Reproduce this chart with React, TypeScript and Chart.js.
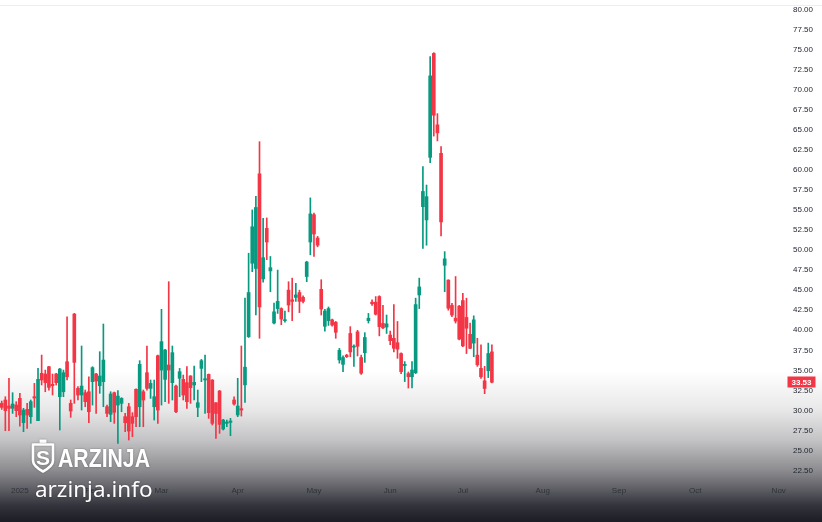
import React, { useEffect, useRef } from 'react';
import { Chart, registerables } from 'chart.js';

Chart.register(...registerables);

const opens = [
  30.89, 31.31, 30.56, 30.27, 30.68, 31.51, 28.48, 30.14, 29.23, 31.72, 28.73, 34.63, 34.55, 35.46, 33.26, 34.55, 31.72, 32.34, 36.08, 30.89,
  42.02, 32.76, 31.93, 32.22, 32.34, 33.59, 34.55, 33.09, 33.59, 30.47, 29.52, 32.22, 30.68, 30.89, 29.23, 30.47, 29.23, 32.64, 30.47, 32.34,
  34.71, 32.76, 30.47, 36.83, 35.04, 33.88, 35.67, 33.47, 33.05, 34.01, 33.88, 33.47, 34.3, 33.18, 30.39, 35.25, 33.8, 34.5, 33.8, 30.97,
  32.43, 27.69, 28.4, 28.52, 31.31, 29.44, 30.23,
  33.2, 39.2, 48.35, 47.7, 59.5, 46.4, 52.7, 47.4, 40.9, 42.7, 42.7, 41.2, 45.0, 43.8, 44.1, 44.7, 44.1, 46.7, 51.0, 54.4, 51.5, 45.1, 40.5,
  41.2, 41.3, 41.0, 36.3, 35.75, 36.9, 39.6, 37.9, 39.8, 36.6, 37.2, 41.2, 43.5, 43.5, 44.2, 40.85, 40.4, 39.4, 39.0, 38.45, 37.1, 35.6, 34.6, 34.2,
  34.7, 44.4, 55.4, 53.75, 61.55, 74.5, 65.6, 62.05, 48.1, 46.25, 43.1, 41.5, 43.0, 43.7, 41.6, 39.5, 38.4, 36.9, 35.25, 33.7, 34.95, 37.3,
];

const highs = [
  31.18, 31.72, 34.01, 32.22, 31.1, 32.14, 30.27, 30.89, 31.31, 33.38, 35.25, 36.91, 35.04, 35.5, 34.55, 34.63, 35.25, 35.04, 41.69, 31.31,
  42.11, 32.97, 38.04, 32.55, 34.21, 35.46, 34.63, 37.33, 40.78, 30.68, 32.34, 32.3, 32.47, 31.6, 29.64, 30.89, 29.73, 32.7, 36.21, 32.55,
  38.04, 33.8, 33.8, 36.91, 42.61, 37.62, 46.06, 38.04, 33.18, 35.25, 34.42, 35.46, 34.35, 35.54, 32.55, 36.37, 36.91, 34.55, 33.85, 31.0,
  32.5, 28.9, 28.81, 29.02, 31.72, 34.01, 38.04,
  44.0, 49.6, 55.0, 56.7, 63.5, 53.95, 54.0, 49.2, 43.4, 47.5, 42.8, 42.4, 46.05, 46.5, 45.85, 45.0, 44.3, 48.6, 56.5, 54.6, 51.7, 46.3, 42.6,
  42.9, 41.4, 41.1, 37.75, 36.8, 37.0, 40.45, 38.2, 40.0, 36.9, 39.7, 42.1, 43.8, 44.2, 44.3, 43.1, 41.9, 39.9, 43.2, 41.1, 37.2, 36.1, 34.8, 36.1,
  44.0, 46.5, 60.4, 58.1, 74.1, 74.6, 67.0, 62.9, 49.8, 46.3, 43.35, 46.7, 43.1, 44.6, 44.0, 40.9, 41.8, 39.0, 38.2, 35.5, 38.4, 38.2,
];

const lows = [
  30.14, 27.48, 27.48, 29.64, 29.23, 28.06, 27.36, 27.77, 28.4, 30.39, 28.73, 33.18, 32.34, 32.55, 31.93, 33.18, 27.57, 31.72, 33.8, 29.15,
  30.89, 31.31, 30.06, 30.47, 28.48, 30.68, 29.64, 32.14, 30.47, 29.23, 28.61, 28.4, 25.9, 29.85, 27.36, 26.32, 26.73, 27.98, 27.98, 27.98,
  32.55, 31.51, 28.81, 28.4, 30.68, 31.1, 30.89, 31.31, 29.73, 31.72, 31.31, 30.27, 30.89, 31.31, 29.23, 33.59, 29.64, 29.02, 28.19, 26.53,
  27.15, 27.57, 27.98, 26.86, 30.68, 29.23, 29.31,
  31.0, 39.1, 47.3, 41.9, 39.0, 46.0, 48.8, 44.8, 40.8, 42.1, 40.7, 41.0, 42.3, 41.2, 43.6, 42.2, 43.4, 46.05, 49.4, 49.2, 50.4, 41.9, 39.9,
  40.6, 40.5, 39.0, 35.9, 34.85, 36.6, 36.7, 35.5, 36.8, 34.5, 36.0, 40.9, 43.1, 41.9, 39.3, 40.2, 39.6, 38.2, 37.3, 36.5, 34.6, 33.6, 32.8, 32.8,
  34.6, 42.7, 50.2, 50.6, 60.9, 64.2, 63.6, 51.75, 44.8, 42.5, 41.7, 40.9, 38.8, 37.95, 37.1, 37.7, 36.7, 35.5, 34.0, 32.1, 34.1, 33.45,
];

const closes = [
  30.39, 29.98, 30.27, 30.81, 29.98, 29.44, 30.06, 29.44, 31.1, 31.55, 33.88, 33.8, 33.47, 32.88, 33.09, 33.47, 35.17, 34.71, 34.21, 29.94,
  36.0, 31.93, 33.05, 31.1, 29.85, 35.34, 33.67, 34.3, 36.29, 29.64, 32.05, 29.77, 31.8, 31.51, 28.48, 27.44, 28.4, 29.23, 35.75, 31.31,
  32.76, 33.38, 31.72, 30.06, 38.58, 37.54, 35.04, 37.21, 29.85, 34.84, 31.93, 31.1, 32.84, 33.51, 30.97, 36.21, 33.96, 29.73, 28.4, 29.64,
  28.27, 28.81, 28.56, 28.69, 30.81, 30.56, 30.06,
  35.4, 44.7, 52.9, 55.3, 42.9, 49.05, 51.0, 47.8, 42.3, 43.6, 41.4, 41.3, 43.15, 43.6, 44.4, 43.6, 43.6, 48.5, 54.5, 52.0, 50.6, 42.65, 42.4,
  42.7, 40.65, 39.75, 37.5, 36.6, 36.7, 37.3, 38.0, 38.0, 34.65, 39.1, 41.5, 43.3, 42.0, 40.45, 40.3, 40.8, 38.7, 37.75, 37.65, 34.85, 35.75, 34.2, 35.05,
  43.2, 45.4, 57.3, 56.65, 71.7, 66.8, 64.6, 53.5, 48.9, 42.75, 41.9, 41.15, 38.9, 38.05, 40.25, 37.75, 41.3, 35.7, 34.2, 32.75, 37.1, 33.53,
];

// time axis: label text and the bar index where it sits (trading-day bars, incl. future)
const monthLabels = ['2025', 'Feb', 'Mar', 'Apr', 'May', 'Jun', 'Jul', 'Aug', 'Sep', 'Oct', 'Nov'];
const monthBars = [5, 25, 44, 65, 86, 107, 127, 149, 170, 191, 214];

const priceTicks = [22.5, 25, 27.5, 30, 32.5, 35, 37.5, 40, 42.5, 45, 47.5, 50, 52.5, 55, 57.5, 60, 62.5, 65, 67.5, 70, 72.5, 75, 77.5, 80];
const lastPrice = 33.53;

const UP = '#089981';
const DOWN = '#f23645';
const FONT = '"Liberation Sans", Arial, sans-serif';

export default function App() {
  const ref = useRef<HTMLCanvasElement>(null);

  useEffect(() => {
    const canvas = ref.current;
    if (!canvas) return;
    const colors = closes.map((c, i) => (c >= opens[i] ? UP : DOWN));

    const bgPlugin = {
      id: 'bgGradient',
      beforeDraw(chart: any) {
        const { ctx, width, height } = chart;
        const g = ctx.createLinearGradient(0, 0, 0, height);
        g.addColorStop(0, '#ffffff');
        g.addColorStop(0.71, '#ffffff');
        g.addColorStop(0.785, '#e8e8e9');
        g.addColorStop(0.843, '#c3c3c5');
        g.addColorStop(0.9, '#8d8d91');
        g.addColorStop(0.94, '#5a5a61');
        g.addColorStop(0.968, '#34343c');
        g.addColorStop(1, '#1c1c24');
        ctx.save();
        ctx.fillStyle = g;
        ctx.fillRect(0, 0, width, height);
        ctx.strokeStyle = '#eeeeee';
        ctx.lineWidth = 1;
        ctx.beginPath();
        ctx.moveTo(0, 5.5);
        ctx.lineTo(width, 5.5);
        ctx.stroke();
        ctx.restore();
      },
    };

    const overlayPlugin = {
      id: 'overlay',
      afterDraw(chart: any) {
        const { ctx } = chart;
        const yScale = chart.scales.y;
        const area = chart.chartArea;
        // last price tag
        const py = yScale.getPixelForValue(lastPrice);
        ctx.save();
        ctx.fillStyle = DOWN;
        ctx.fillRect(area.right + 1.5, Math.round(py) - 5.5, 28, 11);
        ctx.fillStyle = '#ffffff';
        ctx.font = `bold 8px ${FONT}`;
        ctx.textAlign = 'center';
        ctx.textBaseline = 'middle';
        ctx.fillText(lastPrice.toFixed(2), area.right + 15.5, Math.round(py) + 0.5);
        ctx.restore();

        // watermark
        ctx.save();
        ctx.fillStyle = '#ffffff';
        ctx.strokeStyle = '#ffffff';
        ctx.shadowColor = 'rgba(0,0,0,0.35)';
        ctx.shadowBlur = 2;
        ctx.fillRect(39.5, 439.5, 7, 4);
        ctx.lineWidth = 2.6;
        ctx.lineJoin = 'round';
        ctx.beginPath();
        ctx.moveTo(33, 444.5);
        ctx.lineTo(53, 444.5);
        ctx.lineTo(53, 460.5);
        ctx.quadraticCurveTo(53, 466, 43, 471.5);
        ctx.quadraticCurveTo(33, 466, 33, 460.5);
        ctx.closePath();
        ctx.stroke();
        ctx.font = `bold 21px ${FONT}`;
        ctx.textAlign = 'center';
        ctx.textBaseline = 'alphabetic';
        ctx.fillText('S', 43, 465);

        ctx.textAlign = 'left';
        ctx.font = `bold 25px ${FONT}`;
        let w = ctx.measureText('ARZINJA').width;
        ctx.save();
        ctx.translate(58, 466.7);
        ctx.scale(92 / w, 1);
        ctx.fillText('ARZINJA', 0, 0);
        ctx.restore();

        ctx.font = '21px "Noto Sans", sans-serif';
        w = ctx.measureText('arzinja.info').width;
        ctx.save();
        ctx.translate(35, 496.7);
        ctx.scale(117.5 / w, 1);
        ctx.fillText('arzinja.info', 0, 0);
        ctx.restore();
        ctx.restore();
      },
    };

    const chart = new Chart(canvas, {
      type: 'bar',
      data: {
        datasets: [
          {
            label: 'body',
            data: opens.map((o, i) => ({ x: i, y: [Math.min(o, closes[i]), Math.max(o, closes[i])] })) as any,
            backgroundColor: colors,
            barThickness: 3,
            minBarLength: 1,
            grouped: false,
            borderWidth: 0,
          } as any,
          {
            label: 'wick',
            data: lows.map((l, i) => ({ x: i, y: [l, highs[i]] })) as any,
            backgroundColor: colors,
            barThickness: 1,
            grouped: false,
            borderWidth: 0,
          } as any,
        ],
      },
      options: {
        animation: false,
        responsive: false,
        maintainAspectRatio: false,
        layout: { padding: 0 },
        plugins: {
          legend: { display: false },
          tooltip: { enabled: false },
          title: { display: false },
        },
        scales: {
          x: {
            type: 'linear',
            offset: false,
            min: -0.47,
            max: 216.0,
            grid: { display: false, drawTicks: false },
            border: { display: false },
            afterBuildTicks: (scale: any) => {
              scale.ticks = monthBars.map((v) => ({ value: v }));
            },
            afterFit: (scale: any) => {
              scale.height = 40;
              scale.paddingLeft = 0;
              scale.paddingRight = 0;
              scale.paddingTop = 0;
              scale.paddingBottom = 0;
            },
            ticks: {
              autoSkip: false,
              maxRotation: 0,
              padding: 4,
              color: '#2f323a',
              font: { size: 8, family: FONT },
              callback: (_v: any, idx: number) => monthLabels[idx],
            },
          },
          y: {
            type: 'linear',
            position: 'right',
            min: 21.09,
            max: 81.16,
            grid: { display: false, drawTicks: false },
            border: { display: false },
            afterBuildTicks: (scale: any) => {
              scale.ticks = priceTicks.map((v) => ({ value: v }));
            },
            afterFit: (scale: any) => {
              scale.width = 36;
              scale.paddingTop = 0;
              scale.paddingBottom = 0;
              scale.paddingLeft = 0;
              scale.paddingRight = 0;
            },
            ticks: {
              autoSkip: false,
              padding: 7,
              color: '#1e222d',
              font: { size: 8, family: FONT },
              callback: (v: any) => Number(v).toFixed(2),
            },
          },
        },
      } as any,
      plugins: [bgPlugin, overlayPlugin],
    });

    return () => chart.destroy();
  }, []);

  return (
    <div style={{ position: 'absolute', left: 0, top: 0, width: 822, height: 522 }}>
      <canvas ref={ref} width={822} height={522} style={{ display: 'block', width: 822, height: 522 }} />
    </div>
  );
}
